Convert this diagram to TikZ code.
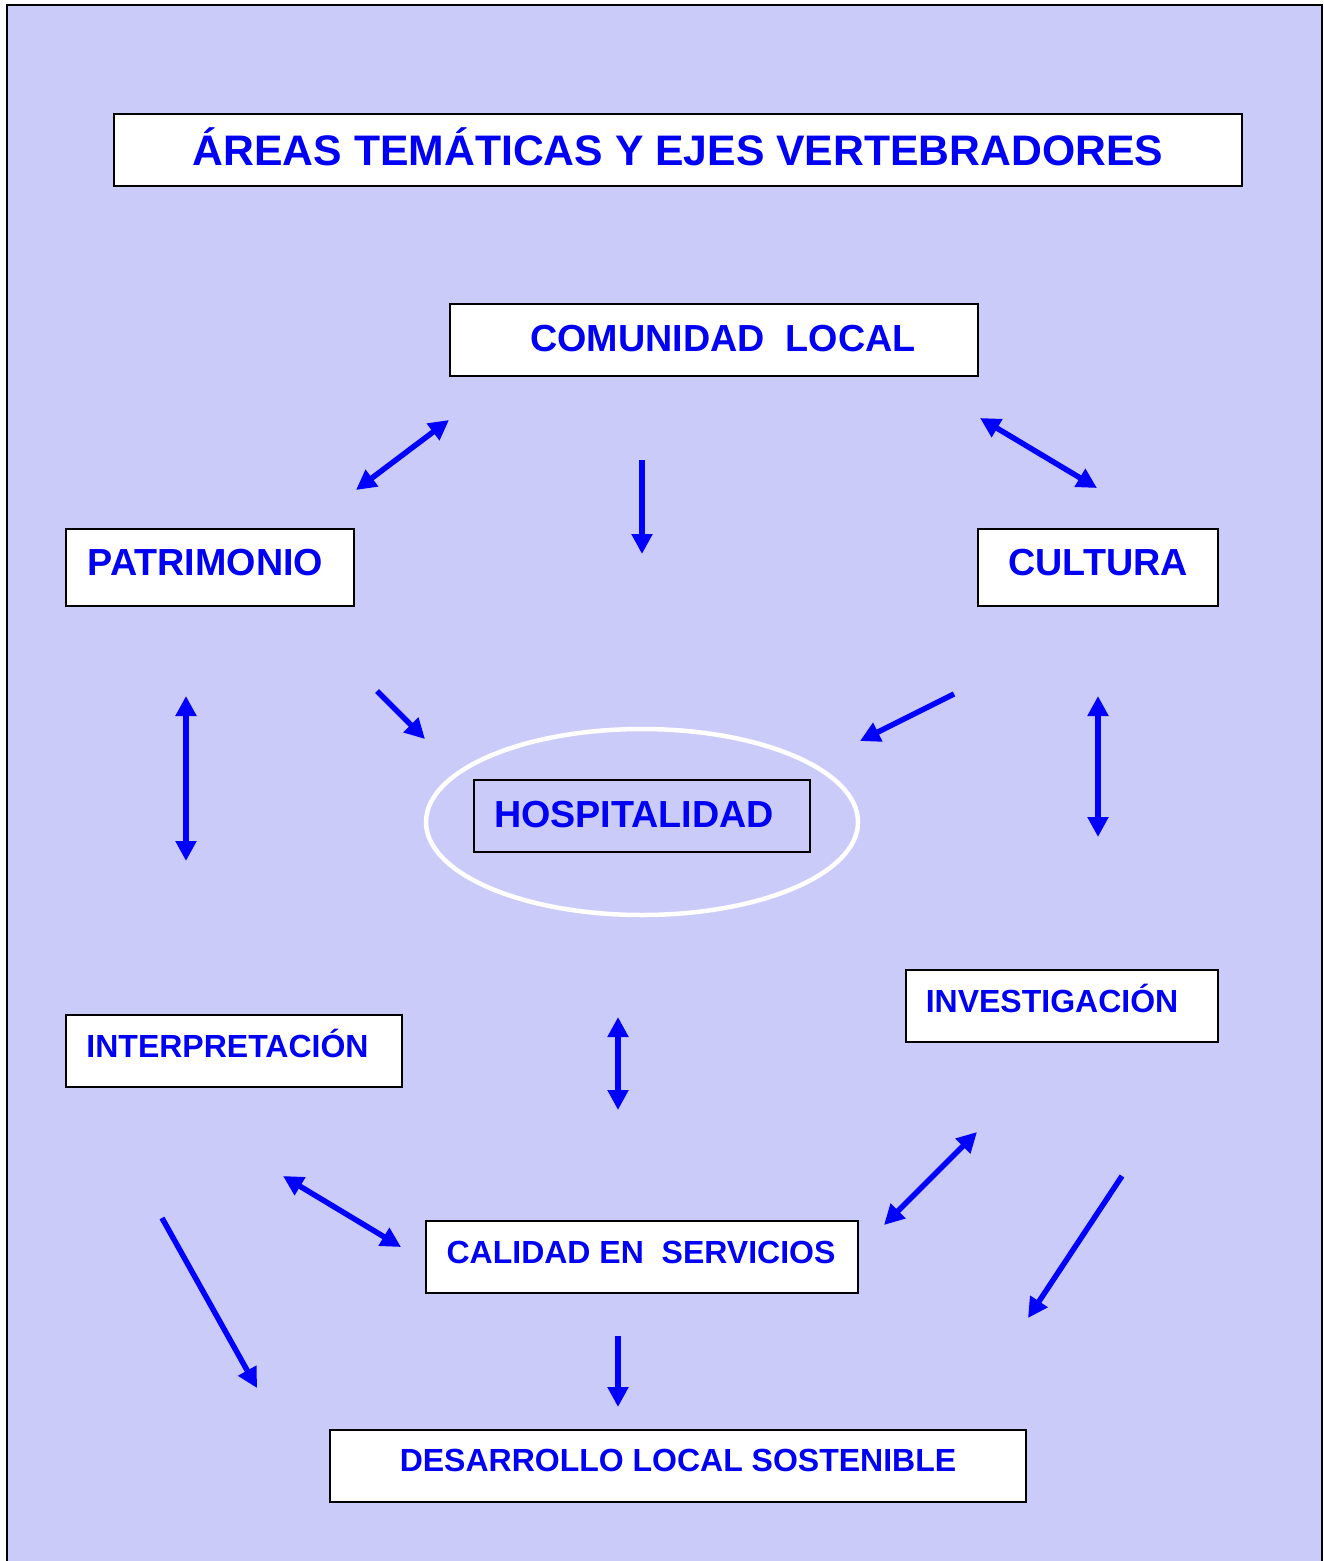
\documentclass[tikz,border=0pt]{standalone}
\usepackage{fontspec}
\setmainfont{Liberation Sans}
\usetikzlibrary{arrows.meta,shapes.geometric}
\definecolor{bgc}{RGB}{203,203,250}
\definecolor{txtblue}{RGB}{0,0,245}
\begin{document}
\begin{tikzpicture}[x=1pt,y=-1pt,
  box/.style={draw=black,line width=2pt,fill=white,inner sep=0pt},
  hbox/.style={draw=black,line width=2pt,inner sep=0pt},
  bigtxt/.style={text=txtblue,font=\bfseries\fontsize{37.7}{37.7}\selectfont,anchor=base,inner sep=0pt},
  smalltxt/.style={text=txtblue,font=\bfseries\fontsize{32}{32}\selectfont,anchor=base,inner sep=0pt},
  titletxt/.style={text=txtblue,font=\bfseries\fontsize{42.7}{42.7}\selectfont,anchor=base,inner sep=0pt},
  arr/.style={draw=blue,line width=5.5pt,-{Triangle[width=20pt,length=20pt]}},
  darr/.style={draw=blue,line width=5.5pt,{Triangle[width=20pt,length=20pt]}-{Triangle[width=20pt,length=20pt]}}]
\useasboundingbox (0,0) rectangle (1323,1561);
\fill[white] (0,0) rectangle (1323,1561);
\fill[bgc] (7,5) rectangle (1322,1561);
\draw[line width=2pt] (7,1562) -- (7,5) -- (1322,5) -- (1322,1562);

% boxes
\node[box,minimum width=1128,minimum height=72] (titlebox) at (678,150) {};
\node[titletxt] (title) at (678,165) {ÁREAS TEMÁTICAS Y EJES VERTEBRADORES};

\node[box,minimum width=528,minimum height=72] (combox) at (714,340) {};
\node[bigtxt] (com) at (723,351) {COMUNIDAD\ \ LOCAL};

\node[box,minimum width=288,minimum height=77] (patbox) at (210,567.5) {};
\node[bigtxt] (pat) at (205.5,575) {PATRIMONIO};

\node[box,minimum width=240,minimum height=77] (culbox) at (1098,567.5) {};
\node[bigtxt] (cul) at (1098,575) {CULTURA};

\node[ellipse,draw=white,line width=4.5pt,minimum width=432,minimum height=186,inner sep=0pt] (ell) at (642,822) {};
\node[hbox,minimum width=336,minimum height=72] (hosbox) at (642,816) {};
\node[bigtxt] (hos) at (634,827) {HOSPITALIDAD};

\node[box,minimum width=312,minimum height=72] (invbox) at (1062,1006) {};
\node[smalltxt] (inv) at (1052,1012) {INVESTIGACIÓN};

\node[box,minimum width=336,minimum height=72] (intbox) at (234,1051) {};
\node[smalltxt] (int) at (227.5,1057) {INTERPRETACIÓN};

\node[box,minimum width=432,minimum height=72] (calbox) at (642,1257) {};
\node[smalltxt] (cal) at (641,1263) {CALIDAD EN\ \ SERVICIOS};

\node[box,minimum width=696,minimum height=72] (desbox) at (678,1466) {};
\node[smalltxt] (des) at (678,1471) {DESARROLLO LOCAL SOSTENIBLE};

% arrow end points
\coordinate (a1s) at (449,420); \coordinate (a1e) at (356,490);
\coordinate (a2s) at (642,460); \coordinate (a2e) at (642,554);
\coordinate (a3s) at (980,418); \coordinate (a3e) at (1097,488);
\coordinate (a4s) at (186,696); \coordinate (a4e) at (186,861);
\coordinate (a5s) at (377,691); \coordinate (a5e) at (425,739);
\coordinate (a6s) at (954,694); \coordinate (a6e) at (860,741);
\coordinate (a7s) at (1098,696); \coordinate (a7e) at (1098,837);
\coordinate (a8s) at (618,1017); \coordinate (a8e) at (618,1110);
\coordinate (a9s) at (283,1176); \coordinate (a9e) at (401,1247);
\coordinate (a10s) at (977,1132); \coordinate (a10e) at (884,1225);
\coordinate (a11s) at (162,1218); \coordinate (a11e) at (257,1388);
\coordinate (a12s) at (1122,1176); \coordinate (a12e) at (1028,1318);
\coordinate (a13s) at (618,1336); \coordinate (a13e) at (618,1407);

\draw[darr] (a1s) -- (a1e);
\draw[arr] (a2s) -- (a2e);
\draw[darr] (a3s) -- (a3e);
\draw[darr] (a4s) -- (a4e);
\draw[arr] (a5s) -- (a5e);
\draw[arr] (a6s) -- (a6e);
\draw[darr] (a7s) -- (a7e);
\draw[darr] (a8s) -- (a8e);
\draw[darr] (a9s) -- (a9e);
\draw[darr] (a10s) -- (a10e);
\draw[arr] (a11s) -- (a11e);
\draw[arr] (a12s) -- (a12e);
\draw[arr] (a13s) -- (a13e);
\end{tikzpicture}
\end{document}
